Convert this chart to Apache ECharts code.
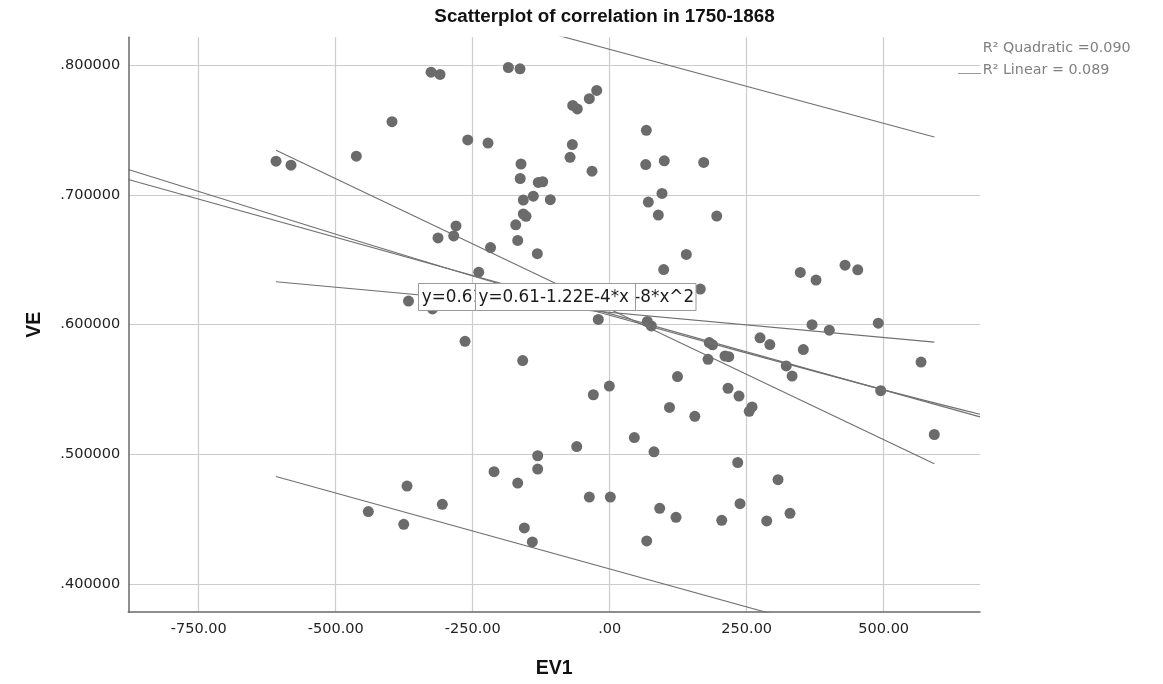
<!DOCTYPE html>
<html>
<head>
<meta charset="utf-8">
<script src="https://cdn.jsdelivr.net/npm/echarts@6/dist/echarts.min.js"></script>
<style>
  html, body { margin: 0; padding: 0; background: #fff; }
  #chart { width: 1163px; height: 684px; }
</style>
</head>
<body>
<div id="chart"></div>
<script>
// ---- data ----
const chartTitle = 'Scatterplot of correlation in 1750-1868';
const xName = 'EV1';
const yName = 'VE';

const xTicks = [-750, -500, -250, 0, 250, 500];
const yTicks = [0.4, 0.5, 0.6, 0.7, 0.8];
const xRange = [-878.5, 675.7];
const yRange = [0.3782, 0.8218];

// scatter points (EV1, VE)
const ev1 = [-326.1,-309.7,-185.0,-163.7,-397.3,-259.1,-222.1,-608.9,-581.6,-462.4,-161.9,-163.3,-130.3,-122.3,-139.4,-157.7,-108.4,-157.7,-152.7,-171.5,-167.9,-280.5,-284.7,-313.3,-217.5,-132.1,-239.0,-367.2,-323.4,-264.0,
  -23.7,-37.2,-67.5,-59.1,66.8,-68.2,-72.4,-32.3,65.7,99.6,171.5,95.4,70.4,88.7,195.3,139.8,98.5,165.3,-20.8,68.6,75.9,274.3,347.8,376.5,429.4,452.6,369.2,400.7,490.1,
  292.2,353.3,181.6,187.6,210.4,217.2,179.4,322.1,332.8,568.1,494.5,592.3,123.7,-0.7,-29.9,215.9,235.9,259.7,254.6,109.1,155.3,44.9,-60.2,80.8,233.6,307.1,-37.2,1.1,91.2,121.0,204.4,237.8,286.5,329.0,67.5,
  -158.8,-131.4,-131.4,-211.1,-167.9,-369.9,-305.5,-440.5,-375.9,-155.8,-141.2];
const ve = [0.7949,0.7931,0.7985,0.7975,0.7567,0.7426,0.7402,0.7262,0.7231,0.7300,0.7240,0.7128,0.7098,0.7103,0.6992,0.6962,0.6965,0.6854,0.6836,0.6771,0.6650,0.6762,0.6685,0.6669,0.6595,0.6548,0.6405,0.6182,0.6121,0.5871,
  0.7808,0.7744,0.7692,0.7665,0.7500,0.7390,0.7292,0.7185,0.7236,0.7265,0.7252,0.7013,0.6946,0.6846,0.6838,0.6542,0.6425,0.6275,0.6040,0.6025,0.5990,0.5898,0.6403,0.6344,0.6459,0.6423,0.6000,0.5957,0.6011,
  0.5846,0.5808,0.5862,0.5844,0.5758,0.5753,0.5732,0.5681,0.5603,0.5711,0.5490,0.5152,0.5599,0.5526,0.5459,0.5509,0.5449,0.5365,0.5331,0.5361,0.5292,0.5128,0.5059,0.5018,0.4936,0.4803,0.4669,0.4669,0.4582,0.4513,0.4490,0.4618,0.4485,0.4544,0.4331,
  0.5723,0.4988,0.4885,0.4865,0.4777,0.4754,0.4613,0.4557,0.4459,0.4431,0.4323];

// fit lines (EV1, VE)
const linearFit = [[-878.5, 0.7121], [675.7, 0.5288]];
const quadraticFit = [[-878.5, 0.7198], [-291, 0.6427], [0, 0.6072], [464, 0.5537], [675.7, 0.5308]];
const meanCiSteep = [[-608.9, 0.7346], [592.3, 0.4926]];
const meanCiFlat = [[-608.9, 0.6331], [592.3, 0.5865]];
const predUpper = [[-608.9, 0.8820], [592.3, 0.7449]];
const predLower = [[-608.9, 0.4828], [592.3, 0.3420]];

const linearLabel = 'y=0.61-1.22E-4*x';
const quadraticLabel = 'y=0.61-1.22E-4*x+1.02E-8*x^2';
const legendLines = ['R\u00B2 Quadratic =0.090', 'R\u00B2 Linear = 0.089'];

// ---- chart ----
const chart = echarts.init(document.getElementById('chart'), null, { renderer: 'canvas' });

const lineColor = '#707070';
function fitSeries(name, data, smooth) {
  return {
    name: name, type: 'line', data: data, smooth: smooth ? 0.4 : false,
    showSymbol: false, symbol: 'none', clip: true, z: 5,
    lineStyle: { color: lineColor, width: 1.1 },
    silent: true
  };
}

function fmtX(v) {
  let s = Number(v).toFixed(2);
  s = s.replace(/^(-?)0\./, '$1.');
  return s;
}
function fmtY(v) {
  return Number(v).toFixed(6).replace(/^0\./, '.');
}

const uiFont = 'DejaVu Sans';
const boldFont = 'Liberation Sans';

const option = {
  animation: false,
  backgroundColor: '#ffffff',
  grid: { left: 128.3, right: 1163 - 980, top: 37.3, bottom: 684 - 614, containLabel: false },
  xAxis: {
    type: 'value', min: xRange[0], max: xRange[1],
    name: xName, nameLocation: 'middle', nameGap: 47,
    nameTextStyle: { fontFamily: boldFont, fontWeight: 'bold', fontSize: 19.5, color: '#111' },
    axisLine: { show: true, onZero: false, lineStyle: { color: '#6a6a6a', width: 1.5 } },
    axisTick: { show: false, customValues: xTicks },
    axisLabel: { customValues: xTicks, formatter: fmtX, fontFamily: uiFont, fontSize: 14.5, color: '#222', margin: 10 },
    splitLine: { show: true, lineStyle: { color: '#cccccc', width: 1.2 } }
  },
  yAxis: {
    type: 'value', min: yRange[0], max: yRange[1],
    name: yName, nameLocation: 'middle', nameGap: 84, nameRotate: 90,
    nameTextStyle: { fontFamily: boldFont, fontWeight: 'bold', fontSize: 19.5, color: '#111' },
    axisLine: { show: true, onZero: false, lineStyle: { color: '#6a6a6a', width: 1.5 } },
    axisTick: { show: false, customValues: yTicks },
    axisLabel: { customValues: yTicks, formatter: fmtY, fontFamily: uiFont, fontSize: 14.5, color: '#222', margin: 8 },
    splitLine: { show: true, lineStyle: { color: '#cccccc', width: 1.2 } }
  },
  series: [
    {
      name: 'points', type: 'scatter', z: 3,
      data: ev1.map((x, i) => [x, ve[i]]),
      symbolSize: 11,
      itemStyle: { color: '#6b6b6b', opacity: 1 },
      silent: true
    },
    fitSeries('linear', linearFit, false),
    fitSeries('quadratic', quadraticFit, true),
    fitSeries('ci1', meanCiSteep, false),
    fitSeries('ci2', meanCiFlat, false),
    fitSeries('pi1', predUpper, false),
    fitSeries('pi2', predLower, false)
  ],
  graphic: [
    { type: 'text', x: 604.5, y: 17, z: 50,
      style: { text: chartTitle, fill: '#111', font: 'bold 18.8px "Liberation Sans"',
               align: 'center', verticalAlign: 'middle', textAlign: 'center', textVerticalAlign: 'middle' } },
    { type: 'text', x: 982.7, y: 48, z: 50,
      style: { text: legendLines[0], fill: '#808080', font: '14.3px "DejaVu Sans"',
               align: 'left', verticalAlign: 'middle', textAlign: 'left', textVerticalAlign: 'middle' } },
    { type: 'text', x: 982.7, y: 70, z: 50,
      style: { text: legendLines[1], fill: '#808080', font: '14.3px "DejaVu Sans"',
               align: 'left', verticalAlign: 'middle', textAlign: 'left', textVerticalAlign: 'middle' } },
    { type: 'line', z: 50, shape: { x1: 958, y1: 73.5, x2: 981, y2: 73.5 },
      style: { stroke: '#9a9a9a', lineWidth: 1 } },
    // quadratic label box (underneath)
    { type: 'rect', z: 100, shape: { x: 418.5, y: 283.5, width: 277.5, height: 27 },
      style: { fill: '#ffffff', stroke: '#9a9a9a', lineWidth: 1 } },
    { type: 'text', z: 101, x: 421.8, y: 297.5,
      style: { text: quadraticLabel, fill: '#1a1a1a', font: '16.8px "DejaVu Sans"',
               align: 'left', verticalAlign: 'middle', textAlign: 'left', textVerticalAlign: 'middle' } },
    // linear label box (on top)
    { type: 'rect', z: 102, shape: { x: 475.5, y: 283.5, width: 160, height: 27 },
      style: { fill: '#ffffff', stroke: '#9a9a9a', lineWidth: 1 } },
    { type: 'text', z: 103, x: 478.6, y: 297.5,
      style: { text: linearLabel, fill: '#1a1a1a', font: '16.8px "DejaVu Sans"',
               align: 'left', verticalAlign: 'middle', textAlign: 'left', textVerticalAlign: 'middle' } }
  ]
};

chart.setOption(option);
</script>
</body>
</html>
